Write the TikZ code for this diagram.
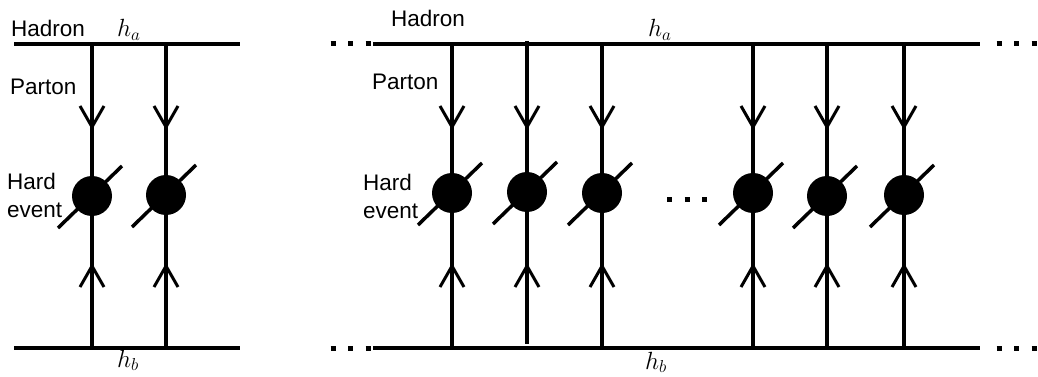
\documentclass[tikz,border=0pt]{standalone}
\usepackage{fontspec}
\newfontfamily\lblfont{Liberation Sans}
\usetikzlibrary{arrows.meta,decorations.markings}

\begin{document}
\begin{tikzpicture}[x=1pt,y=-1pt,
  chev/.tip={Straight Barb[length=21pt,width=24pt,line width=3pt]},
  hadron/.style={line width=4pt},
  parton/.style 2 args={line width=3.8pt,postaction={decorate},
    decoration={markings,mark=at position #1pt with {\arrow{chev}},
      mark=at position #2pt with {\arrowreversed{chev}}}},
  blob/.style={circle,fill,minimum size=40pt,inner sep=0pt},
  cut/.style={line width=3.5pt},
  dots/.style={line width=5pt,dash pattern=on 5pt off 12.5pt},
  lbl/.style={font=\lblfont\fontsize{22.5}{26}\selectfont,inner sep=0pt,anchor=base west},
  mlbl/.style={font=\fontsize{24}{28}\selectfont,inner sep=0pt,anchor=base west}]
\useasboundingbox (0,0) rectangle (1038,377);

% left picture: two partons
\coordinate (la) at (14,44); \coordinate (lb) at (240,44);
\coordinate (lc) at (14,348); \coordinate (ld) at (240,348);
\draw[hadron] (la) -- (lb);
\draw[hadron] (lc) -- (ld);
\foreach \x/\n/\c in {92/p1/196,166/p2/195}{
  \coordinate (\n t) at (\x,44); \coordinate (\n b) at (\x,348);
  \draw[parton={86}{219}] (\n t) -- (\n b);
  \node[blob] (\n) at (\x,\c) {};
  \draw[cut] ([shift={(-34,32)}]\n.center) -- ([shift={(30,-30)}]\n.center);
}
\node[lbl] (hadl) at (11,37) {Hadron};
\node[mlbl] (hal) at (117,37) {$h_a$};
\node[lbl] (partl) at (10,95) {Parton};
\node[lbl] (hardl) at (7,189) {Hard};
\node[lbl] (eventl) at (7,217) {event};
\node[mlbl] (hbl) at (117,367) {$h_b$};

% right picture: many partons
\coordinate (ra) at (373,44); \coordinate (rb) at (980,44);
\coordinate (rc) at (373,348); \coordinate (rd) at (980,348);
\draw[hadron] (ra) -- (rb);
\draw[hadron] (rc) -- (rd);
\draw[dots] (330.5,44) -- (371,44);
\draw[dots] (996.5,44) -- (1038,44);
\draw[dots] (330.5,348) -- (371,348);
\draw[dots] (996.5,348) -- (1038,348);
\draw[dots] (667,199) -- (707,199);
\foreach \x/\n/\t/\b/\c in {452/q1/44/348/193,527/q2/41/344/192,602/q3/44/348/193,
    753/q4/44/348/193,827/q5/44/348/196,904/q6/44/348/195}{
  \pgfmathsetmacro\dn{130-\t}
  \pgfmathsetmacro\up{263-\t}
  \coordinate (\n t) at (\x,\t); \coordinate (\n b) at (\x,\b);
  \draw[parton={\dn}{\up}] (\n t) -- (\n b);
  \node[blob] (\n) at (\x,\c) {};
  \draw[cut] ([shift={(-34,32)}]\n.center) -- ([shift={(30,-30)}]\n.center);
}
\node[lbl] (hadr) at (391,27) {Hadron};
\node[mlbl] (har) at (648,37) {$h_a$};
\node[lbl] (partr) at (372,90) {Parton};
\node[lbl] (hardr) at (363,190) {Hard};
\node[lbl] (eventr) at (363,218) {event};
\node[mlbl] (hbr) at (645,369) {$h_b$};
\end{tikzpicture}
\end{document}
